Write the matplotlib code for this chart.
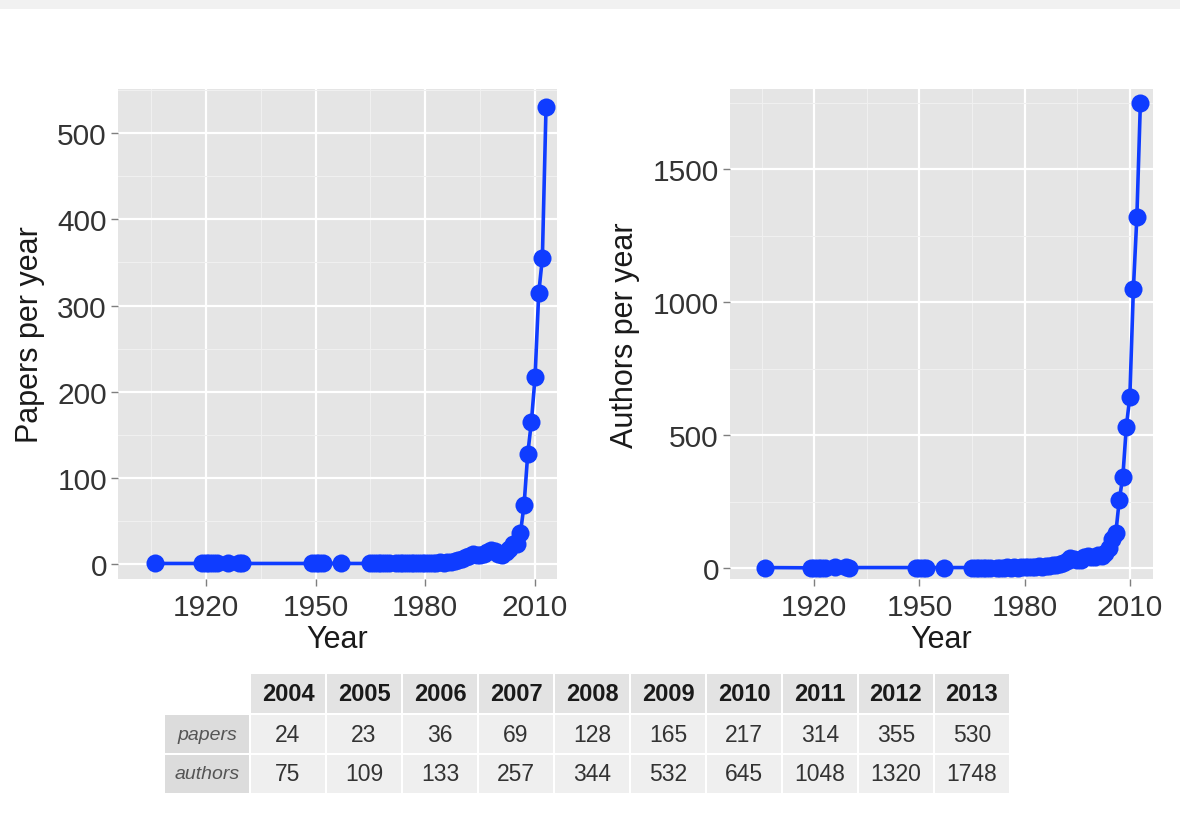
import matplotlib
matplotlib.use("Agg")
import matplotlib.pyplot as plt
from matplotlib.patches import Rectangle
from matplotlib.ticker import MultipleLocator

plt.rcParams['font.family'] = ['Liberation Sans', 'DejaVu Sans']

years = [1906, 1919, 1920, 1921, 1922, 1923, 1926, 1929, 1930,
         1949, 1950, 1951, 1952, 1957,
         1965, 1966, 1967, 1968, 1969, 1970, 1972, 1973, 1974, 1975,
         1976, 1977, 1978, 1979, 1980, 1981, 1982, 1983, 1984, 1985,
         1986, 1987, 1988, 1989, 1990, 1991, 1992, 1993, 1994, 1995,
         1996, 1997, 1998, 1999, 2000, 2001, 2002, 2003,
         2004, 2005, 2006, 2007, 2008, 2009, 2010, 2011, 2012, 2013]
papers = [1, 1, 1, 1, 1, 1, 2, 2, 1,
          1, 1, 1, 1, 1,
          1, 1, 1, 1, 1, 1, 1, 1, 1, 2,
          1, 2, 1, 2, 2, 2, 1, 2, 3, 2,
          3, 3, 4, 5, 6, 8, 10, 12, 11, 11,
          12, 14, 17, 15, 12, 11, 14, 18,
          24, 23, 36, 69, 128, 165, 217, 314, 355, 530]
authors = [2, 1, 2, 1, 2, 1, 3, 4, 2,
           2, 2, 1, 2, 2,
           2, 1, 2, 2, 1, 2, 2, 2, 2, 4,
           2, 3, 2, 4, 5, 4, 3, 5, 7, 5,
           6, 8, 10, 12, 15, 20, 28, 38, 35, 30,
           32, 40, 45, 42, 40, 50, 45, 55,
           75, 109, 133, 257, 344, 532, 645, 1048, 1320, 1748]

table_years = ['2004', '2005', '2006', '2007', '2008', '2009', '2010', '2011', '2012', '2013']
table_papers = ['24', '23', '36', '69', '128', '165', '217', '314', '355', '530']
table_authors = ['75', '109', '133', '257', '344', '532', '645', '1048', '1320', '1748']
row_labels = ['papers', 'authors']

W, H = 1180, 829
fig = plt.figure(figsize=(W / 100, H / 100), dpi=100)
fig.patch.set_facecolor('white')

BLUE = '#0f3cff'
PANEL = '#e5e5e5'
MINOR = '#f0f0f0'


def px(x0, x1, y0, y1):
    return [x0 / W, 1 - y1 / H, (x1 - x0) / W, (y1 - y0) / H]


def style(ax, ymaj, ymin, xlim, ylim):
    ax.set_facecolor(PANEL)
    for s in ax.spines.values():
        s.set_visible(False)
    ax.set_xlim(*xlim)
    ax.set_ylim(*ylim)
    ax.set_xticks([1920, 1950, 1980, 2010])
    ax.xaxis.set_minor_locator(MultipleLocator(30, offset=15))
    ax.yaxis.set_major_locator(MultipleLocator(ymaj))
    ax.yaxis.set_minor_locator(MultipleLocator(ymaj, offset=ymin))
    ax.grid(which='major', color='white', linewidth=1.6)
    ax.grid(which='minor', color=MINOR, linewidth=0.8)
    ax.set_axisbelow(True)
    ax.tick_params(which='major', length=5, width=1, color='#7f7f7f',
                   labelsize=21.5, labelcolor='#333333', pad=3)
    ax.tick_params(axis='x', which='major', pad=5)
    ax.tick_params(which='minor', length=0)
    ax.set_xlabel('Year', fontsize=22, color='#1a1a1a', labelpad=2)


ax1 = fig.add_axes(px(118, 557, 90, 580))
style(ax1, 100, 50, (1896, 2016), (-17, 551))
ax1.plot(years, papers, color=BLUE, linewidth=2.6, marker='o',
         markersize=13, markeredgewidth=0, zorder=3)
ax1.set_ylabel('Papers per year', fontsize=22, color='#1a1a1a', labelpad=9)

ax2 = fig.add_axes(px(730, 1153, 90, 580))
style(ax2, 500, 250, (1896, 2016.6), (-41, 1801))
ax2.plot(years, authors, color=BLUE, linewidth=2.6, marker='o',
         markersize=13, markeredgewidth=0, zorder=3)
ax2.set_ylabel('Authors per year', fontsize=22, color='#1a1a1a', labelpad=9)

# top band
fig.patches.append(Rectangle((0, 1 - 10 / H), 1, 10 / H, transform=fig.transFigure,
                             facecolor='#f1f1f1', edgecolor='none', zorder=0))

# table
tax = fig.add_axes([0, 0, 1, 1])
tax.set_xlim(0, W)
tax.set_ylim(H, 0)
tax.axis('off')

lab_x0, lab_x1 = 165, 250
col_w = 76.0
rows_y = [(675, 714), (716, 754), (756, 794)]
gap = 2

for i, yr in enumerate(table_years):
    x0 = lab_x1 + i * col_w
    y0, y1 = rows_y[0]
    tax.add_patch(Rectangle((x0 + gap / 2, y0), col_w - gap, y1 - y0,
                            facecolor='#e3e3e3', edgecolor='none'))
    tax.text(x0 + col_w / 2, (y0 + y1) / 2, yr, ha='center', va='center',
             fontsize=17, fontweight='bold', color='#1a1a1a')

for r, (lab, vals) in enumerate(zip(row_labels, [table_papers, table_authors])):
    y0, y1 = rows_y[r + 1]
    tax.add_patch(Rectangle((lab_x0, y0), lab_x1 - lab_x0 - gap / 2, y1 - y0,
                            facecolor='#dcdcdc', edgecolor='none'))
    tax.text((lab_x0 + lab_x1) / 2, (y0 + y1) / 2, lab, ha='center', va='center',
             fontsize=14, style='italic', color='#555555')
    for i, v in enumerate(vals):
        x0 = lab_x1 + i * col_w
        tax.add_patch(Rectangle((x0 + gap / 2, y0), col_w - gap, y1 - y0,
                                facecolor='#efefef', edgecolor='none'))
        tax.text(x0 + col_w / 2, (y0 + y1) / 2, v, ha='center', va='center',
                 fontsize=16.5, color='#333333')

fig.savefig('out.png', dpi=100)
